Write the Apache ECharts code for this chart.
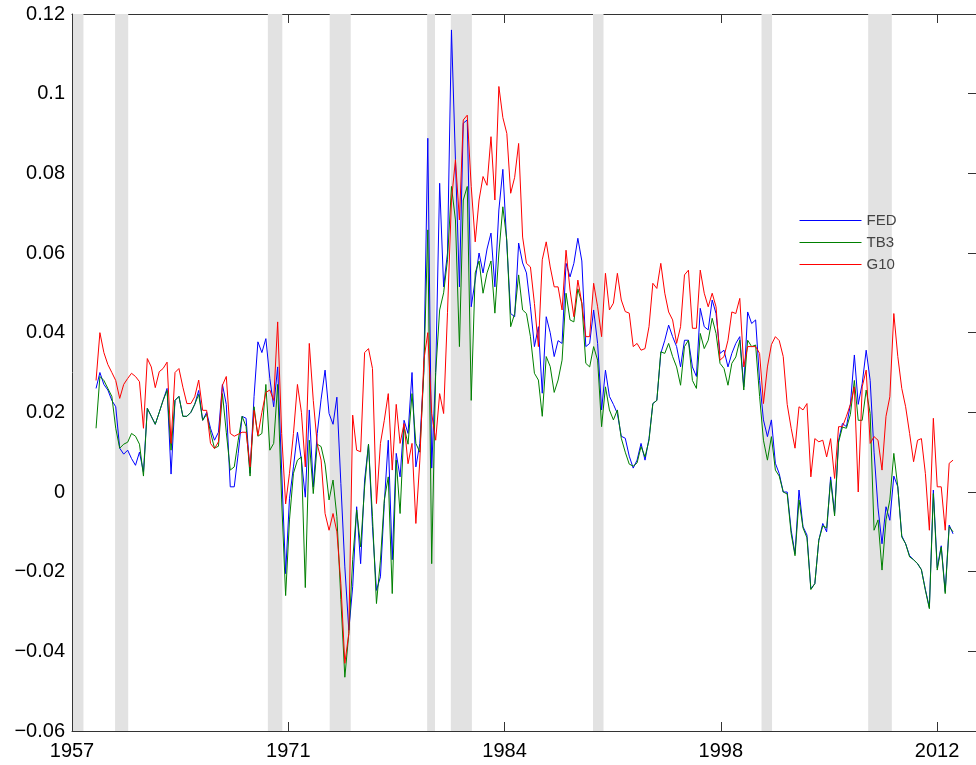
<!DOCTYPE html>
<html>
<head>
<meta charset="utf-8">
<script src="https://cdn.jsdelivr.net/npm/echarts@6/dist/echarts.min.js"></script>
<style>
html,body{margin:0;padding:0;background:#ffffff;}
#chart{width:976px;height:765px;}
</style>
</head>
<body>
<div id="chart"></div>
<script>
// Quarterly series, first observation 1959Q1
const firstYear = 1959;

const fed = [
  0.026, 0.030, 0.027, 0.0256,
  0.023, 0.0214, 0.011, 0.0095,
  0.0105, 0.0084, 0.0067, 0.010,
  0.005, 0.021, 0.019, 0.017,
  0.020, 0.023, 0.026, 0.0045,
  0.023, 0.024, 0.019, 0.019,
  0.020, 0.022, 0.0255, 0.018,
  0.020, 0.016, 0.013, 0.015,
  0.027, 0.022, 0.0013, 0.0013,
  0.0097, 0.019, 0.0185, 0.0047,
  0.024, 0.0377, 0.035, 0.0385,
  0.0285, 0.0214, 0.0314, 0.0055,
  -0.0205, -0.0017, 0.0063, 0.015,
  0.008, -0.0013, 0.0206, 0.0013,
  0.0147, 0.0233, 0.0306, 0.0197,
  0.017, 0.0238, 0.0021, -0.0188,
  -0.0347, -0.0238, -0.0037, -0.018,
  0.003, 0.012, -0.0087, -0.0247,
  -0.0213, -0.0029, 0.013, -0.017,
  0.0097, 0.0038, 0.018, 0.0147,
  0.030, 0.0063, 0.0122, 0.0306,
  0.0888, 0.006, 0.030, 0.0775,
  0.0515, 0.060, 0.116, 0.0834,
  0.0515, 0.0926, 0.0934, 0.0465,
  0.0532, 0.060, 0.055, 0.061,
  0.065, 0.0515, 0.0708, 0.081,
  0.062, 0.0448, 0.044, 0.0625,
  0.0575, 0.055, 0.0465, 0.0365,
  0.0415, 0.0248, 0.044, 0.040,
  0.034, 0.038, 0.0373, 0.0574,
  0.054, 0.0574, 0.0637, 0.058,
  0.0365, 0.0373, 0.0457, 0.0373,
  0.0206, 0.0306, 0.024, 0.022,
  0.0197, 0.014, 0.0135, 0.009,
  0.006, 0.008, 0.0122, 0.008,
  0.0134, 0.0222, 0.023, 0.0348,
  0.0381, 0.0419, 0.039, 0.0365,
  0.0314, 0.0381, 0.0381, 0.0314,
  0.029, 0.0461, 0.0415, 0.0407,
  0.0482, 0.0448, 0.0348, 0.0356,
  0.0314, 0.0348, 0.0373, 0.039,
  0.0264, 0.0452, 0.0423, 0.0432,
  0.028, 0.0181, 0.0139, 0.0181,
  0.0072, 0.0046, 0.000, 0.000,
  -0.0096, -0.0155, 0.0005, -0.0087,
  -0.0108, -0.0243, -0.023, -0.0121,
  -0.0079, -0.010, 0.0038, -0.0054,
  0.013, 0.0172, 0.0164, 0.022,
  0.0344, 0.022, 0.0272, 0.0356,
  0.028, 0.010, -0.004, -0.013,
  -0.0037, -0.0071, 0.004, 0.0013,
  -0.011, -0.013, -0.016, -0.017,
  -0.018, -0.0195, -0.0245, -0.029,
  0.0005, -0.019, -0.0135, -0.025,
  -0.0083, -0.0105
];

const tb3 = [
  0.016, 0.029, 0.028, 0.026,
  0.024, 0.016, 0.011, 0.012,
  0.0125, 0.0147, 0.014, 0.012,
  0.004, 0.021, 0.019, 0.017,
  0.020, 0.023, 0.0255, 0.0105,
  0.023, 0.024, 0.019, 0.019,
  0.020, 0.022, 0.0245, 0.018,
  0.0195, 0.015, 0.011, 0.0115,
  0.0247, 0.015, 0.0055, 0.0063,
  0.013, 0.019, 0.0164, 0.004,
  0.0214, 0.014, 0.0147, 0.027,
  0.0105, 0.0122, 0.027, -0.002,
  -0.026, -0.007, 0.0047, 0.008,
  0.0088, -0.024, 0.013, -0.0004,
  0.012, 0.0114, 0.007, -0.002,
  0.003, -0.0062, -0.027, -0.0465,
  -0.0355, -0.017, -0.0045, -0.0138,
  0.0013, 0.012, -0.0062, -0.028,
  -0.0171, -0.002, 0.0038, -0.0255,
  0.008, -0.0054, 0.0164, 0.012,
  0.0247, 0.0122, 0.010, 0.030,
  0.0658, -0.018, 0.030, 0.0457,
  0.050, 0.0583, 0.0767, 0.0683,
  0.0365, 0.0733, 0.0767, 0.023,
  0.055, 0.058, 0.0499, 0.055,
  0.058, 0.0449, 0.060, 0.0716,
  0.0632, 0.0415, 0.0448, 0.0545,
  0.0457, 0.0448, 0.039, 0.0298,
  0.0281, 0.019, 0.034, 0.0315,
  0.025, 0.0281, 0.0331, 0.0499,
  0.0432, 0.0427, 0.051, 0.0474,
  0.0323, 0.0314, 0.0365, 0.0331,
  0.0164, 0.0264, 0.0206, 0.0181,
  0.0206, 0.0135, 0.010, 0.007,
  0.0065, 0.0073, 0.0114, 0.0088,
  0.013, 0.0222, 0.023, 0.0352,
  0.0348, 0.0373, 0.034, 0.0314,
  0.0268, 0.0365, 0.0381, 0.028,
  0.026, 0.0398, 0.036, 0.0381,
  0.0436, 0.0398, 0.0323, 0.031,
  0.0268, 0.0323, 0.0339, 0.0381,
  0.0256, 0.0381, 0.0365, 0.0369,
  0.024, 0.013, 0.008, 0.0139,
  0.0055, 0.004, 0.000, -0.0005,
  -0.0105, -0.016, -0.002, -0.009,
  -0.0115, -0.0245, -0.023, -0.0121,
  -0.0085, -0.009, 0.003, -0.006,
  0.0125, 0.0163, 0.016, 0.0195,
  0.028, 0.018, 0.018, 0.0256,
  0.0197, -0.0096, -0.007, -0.0196,
  -0.007, -0.002, 0.0097, 0.0013,
  -0.0113, -0.013, -0.0163, -0.017,
  -0.018, -0.0195, -0.0247, -0.0293,
  -0.0004, -0.0196, -0.0138, -0.0255,
  -0.0087, -0.010
];

const g10 = [
  0.028, 0.040, 0.035, 0.032,
  0.030, 0.028, 0.0235, 0.027,
  0.0285, 0.0298, 0.029, 0.0277,
  0.016, 0.0335, 0.0314, 0.0262,
  0.0302, 0.031, 0.0326, 0.0122,
  0.030, 0.031, 0.0263, 0.0222,
  0.0222, 0.0239, 0.0281, 0.0205,
  0.0205, 0.0122, 0.0109, 0.0126,
  0.0268, 0.029, 0.0147, 0.014,
  0.0145, 0.015, 0.015, 0.0063,
  0.0205, 0.0142, 0.020, 0.025,
  0.0256, 0.023, 0.0427, 0.0147,
  -0.003, 0.0047, 0.0147, 0.027,
  0.020, 0.0063, 0.0373, 0.023,
  0.012, 0.008, -0.0054, -0.0096,
  -0.0054, -0.010, -0.023, -0.043,
  -0.0355, 0.0193, 0.0105, 0.0101,
  0.035, 0.036, 0.031, -0.0029,
  0.0122, 0.018, 0.0247, 0.0055,
  0.022, 0.0122, 0.0172, 0.0071,
  0.0122, -0.0079, 0.008, 0.033,
  0.040, 0.0197, 0.013, 0.0247,
  0.0197, 0.045, 0.0733, 0.0834,
  0.0683, 0.0934, 0.0946, 0.0767,
  0.0628, 0.0733, 0.0792, 0.077,
  0.0892, 0.0733, 0.1018, 0.094,
  0.090, 0.075, 0.079, 0.0875,
  0.064, 0.0574, 0.0565, 0.0473,
  0.0365, 0.0583, 0.0628, 0.0565,
  0.0515, 0.0515, 0.0457, 0.0607,
  0.0507, 0.044, 0.0532, 0.0474,
  0.039, 0.039, 0.0524, 0.0465,
  0.039, 0.0549, 0.0457, 0.0474,
  0.0549, 0.0482, 0.0453, 0.0449,
  0.0365, 0.0373, 0.0356, 0.036,
  0.0415, 0.0524, 0.0511, 0.0574,
  0.0499, 0.0452, 0.0432, 0.0373,
  0.0415, 0.0545, 0.0557, 0.0411,
  0.0411, 0.0557, 0.0499, 0.0465,
  0.0499, 0.0465, 0.0331, 0.034,
  0.0381, 0.0452, 0.0448, 0.0486,
  0.0314, 0.0365, 0.0365, 0.0365,
  0.0348, 0.0222, 0.0314, 0.037,
  0.039, 0.038, 0.034, 0.022,
  0.016, 0.011, 0.0214, 0.0206,
  0.0222, 0.0038, 0.0134, 0.0126,
  0.013, 0.0088, 0.0134, 0.0034,
  0.0164, 0.0164, 0.019, 0.022,
  0.0264, 0.000, 0.0264, 0.0306,
  0.0122, 0.0139, 0.013, 0.0055,
  0.019, 0.0239, 0.0448, 0.034,
  0.026, 0.0214, 0.0147, 0.0076,
  0.013, 0.0134, 0.0046, -0.0096,
  0.0185, 0.0013, 0.0013, -0.0096,
  0.0072, 0.008
];

// NBER recessions: [startYear, startMonth, endYear, endMonth]
const recessions = [
  [1957, 8, 1958, 4],
  [1960, 4, 1961, 2],
  [1969, 12, 1970, 11],
  [1973, 11, 1975, 3],
  [1980, 1, 1980, 7],
  [1981, 7, 1982, 11],
  [1990, 7, 1991, 3],
  [2001, 3, 2001, 11],
  [2007, 12, 2009, 6]
];

const seriesNames = ['FED', 'TB3', 'G10'];
const xTickLabels = ['1957', '1971', '1984', '1998', '2012'];

// day numbers (MATLAB datenum convention)
function datenum(y, m, d) { return Date.UTC(y, m - 1, d) / 86400000 + 719529; }
function quarterDate(i) {
  const y = firstYear + Math.floor(i / 4);
  const m = 2 + 3 * (i % 4);
  return datenum(y, m, 15);
}
function endOfMonth(y, m) { return datenum(y, m + 1, 0); }

const X_MIN = 715000, X_STEP = 5000, X_MAX = 735900;
const xTicks = xTickLabels.map((_, k) => X_MIN + k * X_STEP);

function toPairs(arr) { return arr.map((v, i) => [quarterDate(i), v]); }

const FONT = "'Liberation Sans', Arial, Helvetica, sans-serif";
const AXIS_COLOR = '#333333';

const chart = echarts.init(document.getElementById('chart'), null, { renderer: 'canvas' });

const xCommon = {
  type: 'value', min: X_MIN, max: X_MAX, interval: X_STEP,
  splitLine: { show: false },
  axisLine: { show: true, onZero: false, lineStyle: { color: AXIS_COLOR, width: 1 } },
  axisTick: { show: true, inside: true, length: 9, customValues: xTicks, lineStyle: { color: AXIS_COLOR, width: 1 } }
};
const yCommon = {
  type: 'value', min: -0.06, max: 0.12, interval: 0.02,
  splitLine: { show: false },
  axisLine: { show: true, onZero: false, lineStyle: { color: AXIS_COLOR, width: 1 } },
  axisTick: { show: true, inside: true, length: 8, lineStyle: { color: AXIS_COLOR, width: 1 } }
};

const option = {
  animation: false,
  backgroundColor: '#ffffff',
  grid: { left: 72, top: 14, right: -4, bottom: 34, containLabel: false },
  legend: {
    data: seriesNames,
    orient: 'vertical',
    left: 799, top: 213,
    padding: 0,
    itemWidth: 62, itemHeight: 16, itemGap: 7,
    itemStyle: { opacity: 0 },
    lineStyle: { width: 1 },
    textStyle: { fontFamily: FONT, fontSize: 15, color: '#444444' }
  },
  xAxis: [
    Object.assign({}, xCommon, {
      position: 'bottom',
      axisLabel: {
        show: true, margin: 10, fontFamily: FONT, fontSize: 20, color: '#000000',
        customValues: xTicks,
        formatter: function (v) {
          const k = (v - X_MIN) / X_STEP;
          return Number.isInteger(k) && xTickLabels[k] ? xTickLabels[k] : '';
        }
      }
    }),
    Object.assign({}, xCommon, { position: 'top', axisLabel: { show: false } })
  ],
  yAxis: [
    Object.assign({}, yCommon, {
      position: 'left',
      axisLabel: {
        show: true, margin: 7, fontFamily: FONT, fontSize: 20, color: '#000000',
        formatter: function (v) {
          const s = String(parseFloat(v.toFixed(2)));
          return s.charAt(0) === '-' ? '\u2212' + s.slice(1) : s;
        }
      }
    }),
    Object.assign({}, yCommon, { position: 'right', axisLabel: { show: false } })
  ],
  series: [
    {
      name: 'FED', type: 'line', xAxisIndex: 0, yAxisIndex: 0,
      data: toPairs(fed), symbol: 'none', showSymbol: false,
      lineStyle: { color: '#0000ff', width: 1 }, itemStyle: { color: '#0000ff' },
      z: 2,
      markArea: {
        silent: true,
        itemStyle: { color: '#e2e2e2' },
        data: recessions.map(r => [{ xAxis: endOfMonth(r[0], r[1]) }, { xAxis: endOfMonth(r[2], r[3]) }])
      }
    },
    {
      name: 'TB3', type: 'line', xAxisIndex: 0, yAxisIndex: 0,
      data: toPairs(tb3), symbol: 'none', showSymbol: false,
      lineStyle: { color: '#008000', width: 1 }, itemStyle: { color: '#008000' },
      z: 3
    },
    {
      name: 'G10', type: 'line', xAxisIndex: 0, yAxisIndex: 0,
      data: toPairs(g10), symbol: 'none', showSymbol: false,
      lineStyle: { color: '#ff0000', width: 1 }, itemStyle: { color: '#ff0000' },
      z: 4
    }
  ]
};
chart.setOption(option);
</script>
</body>
</html>
